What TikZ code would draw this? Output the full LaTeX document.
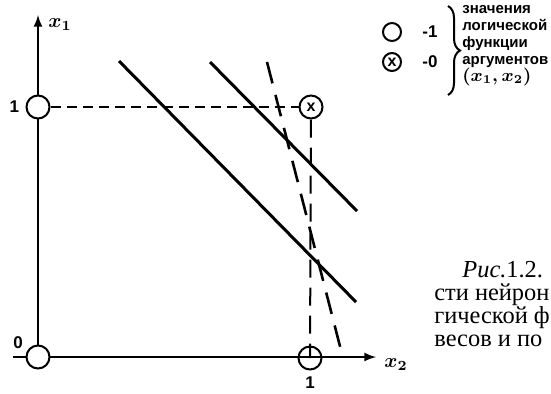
\documentclass[tikz,border=0pt]{standalone}
\usepackage{amsmath}
\usepackage{fontspec}
\setmainfont{Liberation Serif}
\setsansfont{Liberation Sans}
\newfontfamily\capfont{Liberation Serif}
\usepackage{tikz}
\usetikzlibrary{
  % braces
  decorations.pathreplacing,%
  calc,%
  positioning
}
\tikzset{>=latex}
\newcommand{\argpair}{{\fontsize{9}{9}\selectfont\mathversion{bold}$(x_1, x_2)$}}
\tikzset{
  axis/.style={line width=1pt},
  pt/.style={circle, draw, line width=1pt, fill=white, minimum size=11.5pt,
    inner sep=0pt, font=\sffamily\bfseries\fontsize{8}{8}\selectfont},
  sepline/.style={line width=1.5pt},
  sepdash/.style={line width=1.3pt, dash pattern=on 11pt off 6pt},
  hguide/.style={line width=1pt, dash pattern=on 5pt off 3pt},
  vguide/.style={line width=1pt, dash pattern=on 9pt off 5pt},
  num/.style={inner sep=1pt, font=\sffamily\bfseries\fontsize{8.5}{8.5}\selectfont},
  axlbl/.style={inner sep=1pt, font=\fontsize{10}{10}\selectfont\mathversion{bold}},
  legtext/.style={inner sep=0pt, align=left,
    font=\sffamily\bfseries\fontsize{7.5}{8.5}\selectfont},
  captext/.style={inner sep=0pt, align=left,
    font=\capfont\fontsize{12.2}{11.5}\selectfont}
}

\begin{document}
\begin{tikzpicture}[x=0.5pt, y=-0.5pt]
  \useasboundingbox (0,0) rectangle (551,393);%
  % axes
  \coordinate (o) at (38,357);%
  \coordinate (xstart) at (13,357);%
  \coordinate (xend) at (376,357);%
  \coordinate (yend) at (38,15);%
  \draw [axis, ->] (xstart) -- (xend);%
  \draw [axis, ->] (o) -- (yend);%
  \node [axlbl, right=4pt of yend, yshift=-5pt] (lx1) {$x_1$};%
  \node [axlbl, right=3pt of xend, yshift=-4pt] (lx2) {$x_2$};%
  % separating lines
  \draw [sepline] (210,62) -- (357,211);%
  \draw [sepline] (119,61) -- (356,302);%
  \draw [sepdash] (267,62) -- (343,358);%
  % points of the logic function
  \node [pt] (p00) at (o) {};%
  \node [pt] (p01) at (38,107) {};%
  \node [pt, fill=none] (p10) at (310,358) {};%
  \node [pt] (p11) at (311,107) {x};%
  \draw [hguide] (p01) -- (p11);%
  \draw [vguide] (p11) -- (p10.center);%
  \node [num, left=2pt of p01] (n1a) {1};%
  \node [num] (n0) at (18,343) {0};%
  \node [num, below=2pt of p10] (n1b) {1};%
  % legend
  \node [pt, minimum size=9pt] (l1) at (392,32) {};%
  \node [pt, minimum size=9pt] (l0) at (392,62) {x};%
  \node [num] (v1) at (430,32) {-1};%
  \node [num] (v0) at (430,62) {-0};%
  \coordinate (bt) at (448,6);%
  \coordinate (bb) at (448,95);%
  \draw [line width=1pt, decorate, decoration={brace, amplitude=6pt}] (bt) -- (bb);%
  \node [legtext, anchor=north west] (ltxt) at (462,5)
    {значения\\логической\\функции\\аргументов\\\argpair};%
  % caption (cut at the right edge)
  \node [captext, anchor=north west] (cap) at (434,261)
    {\hspace*{14pt}\textit{Рис.}1.2.\\сти нейрон\\гической ф\\весов и по};%
\end{tikzpicture}
\end{document}
